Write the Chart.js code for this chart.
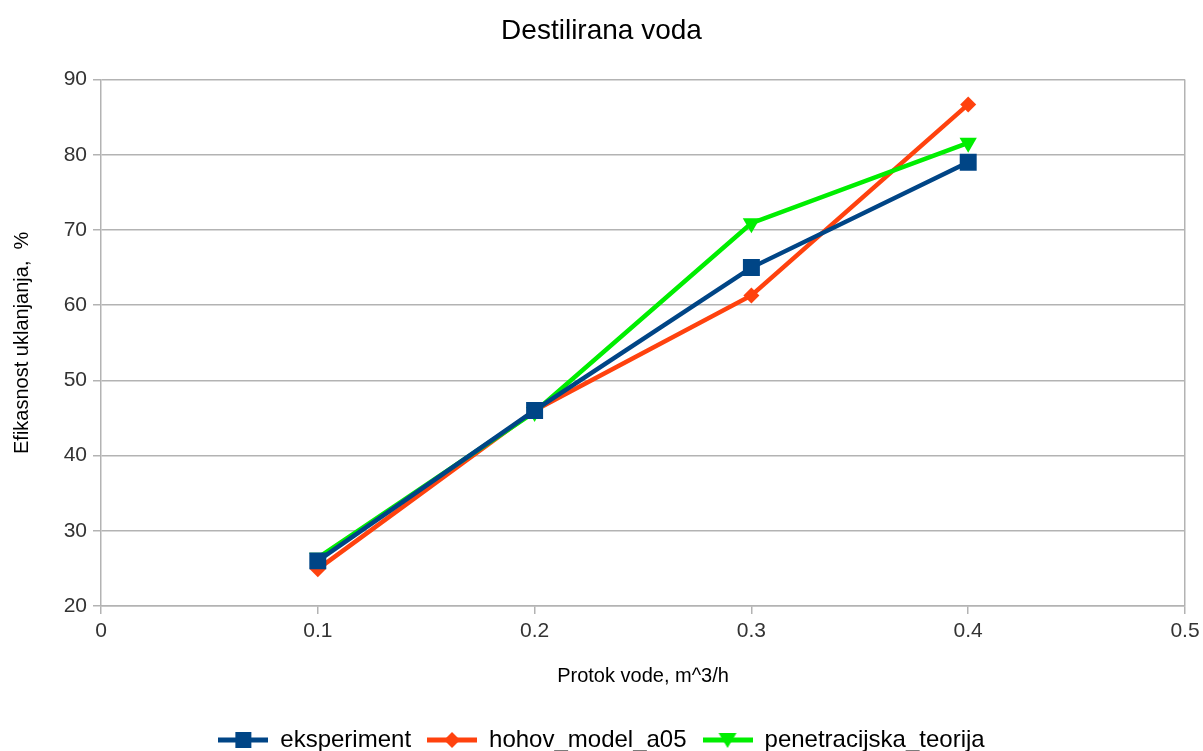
<!DOCTYPE html>
<html>
<head>
<meta charset="utf-8">
<title>Destilirana voda</title>
<script src="https://cdn.jsdelivr.net/npm/chart.js@4/dist/chart.umd.min.js"></script>
<style>
  html, body { margin: 0; padding: 0; background: #fff; }
  #wrap { width: 1203px; height: 751px; }
</style>
</head>
<body>
<div id="wrap"><canvas id="vodaChart"></canvas></div>
<script>
// Flow rate (m^3/h)
var protok = [0.1, 0.2, 0.3, 0.4];

// Removal efficiency, %
var eksperiment = [26.0, 46.0, 65.0, 79.0];
var hohovModel = [24.9, 46.0, 61.3, 86.7];
var penetracijska = [26.4, 45.8, 70.9, 81.6];

var xTicks = [0, 0.1, 0.2, 0.3, 0.4, 0.5];
var yTicks = [20, 30, 40, 50, 60, 70, 80, 90];

var GRID = '#b3b3b3';

function points(ys) {
    return protok.map(function (x, i) { return { x: x, y: ys[i] }; });
}

// small line + marker icon for the legend
function legendIcon(color, style) {
    var c = document.createElement('canvas');
    c.width = 50; c.height = 20;
    var g = c.getContext('2d');
    g.strokeStyle = color;
    g.lineWidth = 5;
    g.beginPath(); g.moveTo(0, 10); g.lineTo(50, 10); g.stroke();
    g.fillStyle = color;
    g.beginPath();
    if (style === 'rect') {
        g.rect(17, 2, 16, 16);
    } else if (style === 'rectRot') {
        g.moveTo(25, 2); g.lineTo(33, 10); g.lineTo(25, 18); g.lineTo(17, 10);
        g.closePath();
    } else {
        g.moveTo(16, 3); g.lineTo(34, 3); g.lineTo(25, 18);
        g.closePath();
    }
    g.fill();
    return c;
}

var series = [
    { label: 'eksperiment', data: eksperiment, color: '#004586', style: 'rect', rot: 0, r: 12, order: 0 },
    { label: 'hohov_model_a05', data: hohovModel, color: '#ff420e', style: 'rectRot', rot: 0, r: 8, order: 2 },
    { label: 'penetracijska_teorija', data: penetracijska, color: '#00ee00', style: 'triangle', rot: 180, r: 10, order: 1 }
];

var ctx = document.getElementById('vodaChart');

var vodaChart = new Chart(ctx, {
    type: 'line',
    data: {
        datasets: series.map(function (s) {
            return {
                label: s.label,
                data: points(s.data),
                borderColor: s.color,
                backgroundColor: s.color,
                borderWidth: 4.5,
                pointStyle: s.style,
                rotation: s.rot,
                pointRadius: s.r,
                pointBorderWidth: 0,
                order: s.order,
                fill: false,
                tension: 0
            };
        })
    },
    options: {
        responsive: true,
        maintainAspectRatio: false,
        animation: false,
        layout: { padding: { left: 0, right: 0, top: 0, bottom: -11 } },
        plugins: {
            title: {
                display: true,
                text: 'Destilirana voda',
                color: '#000',
                font: { family: 'Liberation Sans', size: 28, weight: 'normal' },
                padding: { top: 14, bottom: 32 }
            },
            legend: {
                position: 'bottom',
                labels: {
                    color: '#000',
                    font: { family: 'Liberation Sans', size: 24 },
                    usePointStyle: true,
                    pointStyleWidth: 50,
                    padding: 16,
                    generateLabels: function (chart) {
                        return series.map(function (s, i) {
                            return {
                                text: s.label,
                                pointStyle: legendIcon(s.color, s.style),
                                datasetIndex: i,
                                fontColor: '#000',
                                lineWidth: 0
                            };
                        });
                    }
                }
            },
            tooltip: { enabled: false }
        },
        scales: {
            x: {
                type: 'linear',
                min: 0,
                max: 0.5,
                afterBuildTicks: function (scale) {
                    scale.ticks = xTicks.map(function (v) { return { value: v }; });
                },
                afterFit: function (scale) {
                    scale.height = 106;
                    scale.paddingRight = 18;
                },
                grid: {
                    // only the right-hand frame line is drawn inside the plot
                    color: function (c) { return c.tick && c.tick.value === 0.5 ? GRID : 'rgba(0,0,0,0)'; },
                    tickColor: GRID,
                    tickLength: 8,
                    lineWidth: 1.5
                },
                border: { color: GRID, width: 1.5 },
                ticks: {
                    color: '#333',
                    font: { family: 'Liberation Sans', size: 21 },
                    padding: 5,
                    maxRotation: 0,
                    callback: function (v) { return String(v); }
                },
                title: {
                    display: true,
                    text: 'Protok vode, m^3/h',
                    color: '#000',
                    font: { family: 'Liberation Sans', size: 20 },
                    padding: { top: 10, bottom: 24 }
                }
            },
            y: {
                min: 20,
                max: 90,
                afterBuildTicks: function (scale) {
                    scale.ticks = yTicks.map(function (v) { return { value: v }; });
                },
                afterFit: function (scale) {
                    scale.width = 101;
                },
                grid: {
                    color: GRID,
                    tickLength: 8,
                    lineWidth: 1.5
                },
                border: { color: GRID, width: 1.5 },
                ticks: {
                    color: '#333',
                    font: { family: 'Liberation Sans', size: 21 },
                    padding: 6
                },
                title: {
                    display: true,
                    text: 'Efikasnost uklanjanja,  %',
                    color: '#000',
                    font: { family: 'Liberation Sans', size: 20 },
                    padding: { top: 10, bottom: 10 }
                }
            }
        }
    }
});
</script>
</body>
</html>
